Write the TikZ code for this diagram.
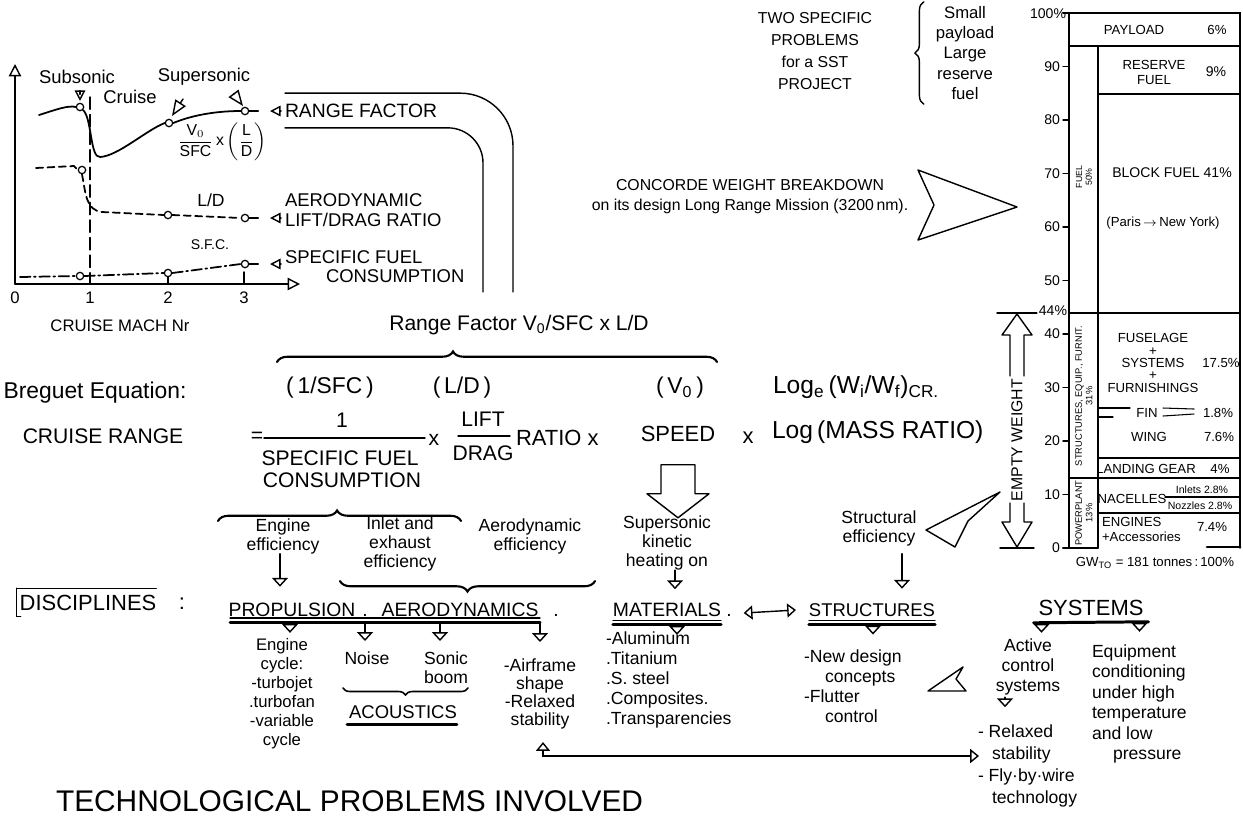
\documentclass[tikz,border=0pt]{standalone}
\usepackage{fontspec}
\setmainfont{Liberation Sans}
\usepackage{amsmath}
\usetikzlibrary{arrows.meta, positioning, calc, decorations.pathreplacing}
\newcommand{\fsz}[2]{\fontsize{#1}{#2}\selectfont}
\tikzstyle{txt} = [inner sep=0pt, outer sep=0pt, align=center]
\tikzstyle{body} = [txt, font=\fsz{10pt}{10.8pt}]
\tikzstyle{disc} = [txt, font=\fsz{11pt}{12pt}]
\tikzstyle{barlbl} = [txt, font=\fsz{7.5pt}{8.5pt}]
\tikzstyle{dot} = [circle, draw, fill=white, inner sep=0pt, minimum size=4.2pt, line width=0.7pt]
\tikzstyle{axis} = [draw, -{Triangle[open, length=7pt, width=7pt]}]
\tikzstyle{tip} = [draw, -{Triangle[open, length=5pt, width=9pt]}]
\tikzstyle{both} = [draw, {Triangle[open, length=5pt, width=8pt]}-{Triangle[open, length=5pt, width=8pt]}]
\tikzstyle{ptrL} = [draw, -{Triangle[open, length=6pt, width=6pt]}]
\tikzstyle{ptrS} = [draw, -{Triangle[open, length=9pt, width=7pt]}]
\tikzstyle{crv} = [draw, line width=1pt]
\tikzstyle{ldash} = [draw, line width=1pt, dash pattern=on 4pt off 2.5pt]
\tikzstyle{dashdot} = [draw, line width=1pt, dash pattern=on 6pt off 2pt on 1pt off 2pt]
\tikzstyle{ul} = [draw, line width=1.7pt]
\tikzstyle{hol} = [draw, line width=0.8pt, line join=round]
\tikzstyle{brc} = [draw, line width=1.2pt, decorate, decoration={brace, amplitude=6pt}]

\begin{document}
\begin{tikzpicture}[x=0.02cm, y=-0.02cm, line width=0.8pt, line cap=round]
\useasboundingbox (0,0) rectangle (1243,816);
\fill[white] (0,0) rectangle (1243,816);
\clip (0,0) rectangle (1243,816);

% Cruise Mach graph
\draw[axis] (15,284) -- (300,284);
\draw[axis] (15,284) -- (15,64);
\foreach \x in {168,244} \draw (\x,272) -- (\x,284);
\foreach \x/\n in {15/0,90/1,168/2,244/3}
  \node[txt, font=\fsz{9.5pt}{10pt}] (m\n) at (\x,298) {\n};
\node[txt, font=\fsz{9.5pt}{10pt}] (mach) at (120,326) {CRUISE MACH Nr};
\draw[dash pattern=on 7pt off 3pt] (90,97) -- (90,284);

\node[dot] (c1) at (80,107) {};
\node[dot] (c2) at (169,123) {};
\node[dot] (c3) at (245,111) {};
\node[dot] (c4) at (82,170) {};
\node[dot] (c5) at (168,215) {};
\node[dot] (c6) at (245,218) {};
\node[dot] (c7) at (80,276) {};
\node[dot] (c8) at (168,273) {};
\node[dot] (c9) at (245,264) {};

\node[txt, font=\fsz{10.5pt}{11pt}] (sub) at (77,77) {Subsonic};
\node[txt, font=\fsz{10.5pt}{11pt}] (cru) at (130,97) {Cruise};
\node[txt, font=\fsz{10.5pt}{11pt}] (sup) at (204,77) {Supersonic};
\node[txt, anchor=west, font=\fsz{11pt}{12pt}] (rf) at (285,111) {RANGE FACTOR};
\node[txt, anchor=west, align=left, font=\fsz{10.5pt}{11.4pt}] (aero) at (285,210) {AERODYNAMIC\\LIFT/DRAG RATIO};
\node[txt, anchor=west, font=\fsz{10.5pt}{11pt}] (sfc) at (285,257) {SPECIFIC FUEL};
\node[txt, anchor=west, font=\fsz{10.5pt}{11pt}] (sfc2) at (326,276) {CONSUMPTION};
\node[txt, font=\fsz{9pt}{10pt}] (rfl) at (222,142) {$\dfrac{\text{V}_0}{\text{SFC}}\,\text{x}\left(\dfrac{\text{L}}{\text{D}}\right)$};
\node[txt, font=\fsz{10pt}{11pt}] (ldl) at (211,200) {L/D};
\node[txt, font=\fsz{8pt}{9pt}] (sfcl) at (210,245) {S.F.C.};

% curves
\draw[crv] (39,115) .. controls (55,110) and (68,105) .. (c1.west);
\draw[crv] (c1.south east) .. controls (92,118) and (90,158) .. (100,157) .. controls (118,156) and (145,131) .. (c2.west);
\draw[crv] (c2.east) .. controls (195,114) and (220,111) .. (c3.west);
\draw[ldash] (36,168) -- (74,166) -- (c4.west);
\draw[ldash] (c4.south) .. controls (86,195) and (86,210) .. (102,212) -- (c5.west);
\draw[ldash] (c5.east) -- (c6.west);
\draw[dashdot] (20,277) -- (c7.west);
\draw[dashdot] (c7.east) -- (c8.west);
\draw[dashdot] (c8.east) -- (c9.west);
\foreach \c in {c3,c6,c9} \draw (\c.east) -- ++(9,0);
\draw[ptrL] ($(rf.west)+(-4,0)$) -- ++(-11,0);
\draw[ptrL] ($(aero.west |- c6)+(-4,0)$) -- ++(-11,0);
\draw[ptrL] ($(sfc.west |- c9)+(-4,0)$) -- ++(-11,0);
\draw[ptrL, shorten <=6pt, shorten >=1pt] (sub.south -| c1) -- (c1.north);
\draw[ptrS] ($(c2)+(14,-24)$) -- ($(c2)+(3,-7)$);
\draw[ptrS] ($(c3)+(-11,-17)$) -- ($(c3)+(-2,-5)$);

% range factor channel
\draw[rounded corners=30pt] ($(rf.north west)+(0,-11)$) -| (513,292);
\draw[rounded corners=20pt] ($(rf.south west)+(0,10)$) -| (483,292);

% SST problems and weight breakdown
\node[txt, font=\fsz{9pt}{12.5pt}] (two) at (815,51) {TWO SPECIFIC\\PROBLEMS\\for a SST\\PROJECT};
\node[txt, font=\fsz{9.5pt}{11.4pt}] (small) at (965,53) {Small\\payload\\Large\\reserve\\fuel};
\draw[brc, line width=0.8pt, decoration={amplitude=5pt}] ($(small.south west)+(-12,5)$) -- ($(small.north west)+(-12,-5)$);
\node[txt, font=\fsz{9pt}{11.5pt}] (cwb) at (750,197) {CONCORDE WEIGHT BREAKDOWN\\on its design Long Range Mission (3200\,nm).};
\draw[hol] (918,170) -- (1017,207) -- (918,240) -- (934,205) -- cycle;

% stacked bar
\draw (1069,13) rectangle (1240,46);
\draw (1069,46) -- (1069,548);
\draw (1098,46) -- (1098,548);
\draw (1240,46) -- (1240,548);
\draw (1098,94) -- (1240,94);
\draw (1069,313) -- (1240,313);
\draw (1098,458) -- (1240,458);
\draw (1069,478) -- (1240,478);
\draw (1165,497) -- (1240,497);
\draw (1098,513) -- (1240,513);
\draw (1063,548) -- (1098,548);
\draw[line width=1.6pt] (1207,547) -- (1240,547);
\foreach \p in {0,10,...,100} \draw (1063,{548-5.35*\p}) -- (1069,{548-5.35*\p});
\foreach \p in {0,10,...,90} \node[txt, anchor=east, font=\fsz{8pt}{9pt}] at (1060,{548-5.35*\p}) {\p};
\node[txt, anchor=east, font=\fsz{8pt}{9pt}] (hund) at (1066,14) {100\%};
\node[txt, anchor=east, font=\fsz{8pt}{9pt}] (ffour) at (1067,311) {44\%};
\draw (997,313) -- ($(ffour.west |- 0,313)+(-2,0)$);
\draw (1000,548) -- (1034,548);
\node[txt, rotate=90, font=\fsz{5pt}{5.5pt}] (fuelc) at (1084,177) {FUEL\\50\%};
\node[txt, rotate=90, font=\fsz{5.3pt}{6pt}] (strc) at (1084,396) {STRUCTURES, EQUIP., FURNIT.\\31\%};
\node[txt, rotate=90, font=\fsz{5.3pt}{6pt}] (powc) at (1084,513) {POWERPLANT\\13\%};
\node[barlbl] (pay) at (1134,30) {PAYLOAD};
\node[barlbl] (payp) at (1217,30) {6\%};
\node[barlbl] (res) at (1154,72) {RESERVE\\FUEL};
\node[barlbl, font=\fsz{8pt}{9pt}] (resp) at (1216,72) {9\%};
\node[barlbl, font=\fsz{8pt}{9pt}] (blk) at (1172,173) {BLOCK FUEL 41\%};
\node[barlbl] (paris) at (1163,223) {(Paris\,$\rightarrow$\,New York)};
\node[barlbl, font=\fsz{7.5pt}{7pt}] (fus) at (1153,363) {FUSELAGE\\+\\SYSTEMS\\+\\FURNISHINGS};
\node[barlbl] (fusp) at (1221,363) {17.5\%};
\node[barlbl] (fin) at (1147,413) {FIN};
\node[barlbl] (finp) at (1218,413) {1.8\%};
\draw[line width=0.6pt] (1099,408) -- (1130,408);
\draw[line width=0.6pt] (1099,417) -- (1113,417);
\draw[line width=0.6pt] (1163,408) -- (1194,409);
\draw[line width=0.6pt] (1163,416) -- (1194,414);
\node[barlbl] (wing) at (1149,437) {WING};
\node[barlbl] (wingp) at (1219,437) {7.6\%};
\node[barlbl] (lgear) at (1146,469) {LANDING GEAR};
\node[barlbl] (lgearp) at (1220,469) {4\%};
\node[barlbl] (nac) at (1132,499) {NACELLES};
\node[txt, font=\fsz{6pt}{6.5pt}] (inl) at (1202,490) {Inlets 2.8\%};
\node[txt, font=\fsz{6pt}{6.5pt}] (noz) at (1200,506) {Nozzles 2.8\%};
\node[barlbl, anchor=west, align=left] (eng) at (1102,529) {ENGINES\\+Accessories};
\node[barlbl] (engp) at (1212,527) {7.4\%};
\node[barlbl] (gw) at (1155,563) {GW\textsubscript{TO} = 181 tonnes\,:\,100\%};
\node[txt, rotate=90, font=\fsz{9pt}{10pt}] (ew) at (1017,440) {EMPTY WEIGHT};
\draw[hol] (1010,376) -- (1010,335) -- (1002,335) -- (1017,314) -- (1032,335) -- (1024,335) -- (1024,376);
\draw[hol] (1010,503) -- (1010,522) -- (1002,522) -- (1017,547) -- (1032,522) -- (1024,522) -- (1024,503);

% Breguet equation
\node[txt, font=\fsz{12pt}{13pt}] (rfac) at (519,325) {Range Factor V\textsubscript{0}/SFC x L/D};
\draw[brc, decoration={aspect=0.4}] (277,362) -- (717,362);
\node[txt, font=\fsz{13pt}{14pt}] (breq) at (95,393) {Breguet Equation:};
\node[txt, font=\fsz{12pt}{13pt}] (crr) at (103,436) {CRUISE RANGE};
\node[txt, font=\fsz{13pt}{14pt}] (isfc) at (330,388) {(\,1/SFC\,)};
\node[txt, font=\fsz{13pt}{14pt}] (ild) at (462,388) {(\,L/D\,)};
\node[txt, font=\fsz{13pt}{14pt}] (iv) at (680,388) {(\,V\textsubscript{0}\,)};
\node[txt, anchor=west, font=\fsz{14pt}{15pt}] (ilog) at (773,387) {Log\textsubscript{e}\,(W\textsubscript{i}/W\textsubscript{f})\textsubscript{CR.}};
\node[txt, font=\fsz{12pt}{13pt}] (eq) at (257,437) {=};
\node[txt, font=\fsz{12pt}{13pt}] (one) at (342,420) {1};
\node[txt, font=\fsz{12pt}{13pt}] (sfd) at (340,458) {SPECIFIC FUEL};
\node[txt, font=\fsz{12pt}{13pt}] (cons) at (342,480) {CONSUMPTION};
\draw (264,438) -- (425,438);
\node[txt, font=\fsz{12pt}{13pt}] (x1) at (434,440) {x};
\node[txt, font=\fsz{12pt}{13pt}] (lift) at (483,419) {LIFT};
\node[txt, font=\fsz{12pt}{13pt}] (drag) at (483,453) {DRAG};
\draw (458,436) -- (510,436);
\node[txt, anchor=west, font=\fsz{12.5pt}{13pt}] (ratio) at (516,438) {RATIO x};
\node[txt, font=\fsz{12.5pt}{13pt}] (speed) at (678,434) {SPEED};
\node[txt, font=\fsz{12.5pt}{13pt}] (x3) at (748,438) {x};
\node[txt, anchor=west, font=\fsz{14pt}{15pt}] (logm) at (772,432) {Log\,(MASS RATIO)};
\coordinate (sa) at ($(speed.south)+(0,23)$);
\draw[hol] ($(sa)+(-17,0)$) -- ++(0,29) -- ++(-14,0) -- ++(31,24) -- ++(31,-24) -- ++(-14,0) -- ++(0,-29) -- cycle;
\draw[brc, decoration={aspect=0.49}] (218,521) -- (461,521);

% efficiencies
\node[body] (enge) at (283,536) {Engine\\efficiency};
\node[body] (inle) at (400,544) {Inlet and\\exhaust\\efficiency};
\node[body] (aere) at (530,536) {Aerodynamic\\efficiency};
\node[body] (sskh) at (667,543) {Supersonic\\kinetic\\heating on};
\node[body] (stre) at (879,528) {Structural\\efficiency};
\draw[brc, decoration={aspect=0.5}] (595,581) -- (340,581);
\draw[tip] ($(enge.south)+(-3,0)$) -- ++(0,33);
\draw[tip] ($(sskh.south)+(8,0)$) -- ++(0,19);
\draw[tip] ($(stre.south)+(23,8)$) -- ++(0,35);
\draw[hol] (1000,492) -- (926,530) -- (955,547) -- (968,521) -- cycle;

% disciplines
\node[txt, font=\fsz{12.5pt}{13pt}] (dis) at (88,603) {DISCIPLINES};
\node[txt, font=\fsz{12.5pt}{13pt}] (col) at (182,604) {:};
\draw ($(dis.north west)+(-3,-7)$) -- ($(dis.north east)+(0,-7)$);
\draw ($(dis.north west)+(-3,-7)$) -- ($(dis.south west)+(-3,6)$) -- ++(4,0);
\node[disc] (prop) at (292,610) {PROPULSION};
\node[disc] (pd) at (365,615) {.};
\node[disc] (aer) at (460,610) {AERODYNAMICS};
\node[disc] (ad) at (556,615) {.};
\node[disc] (mat) at (667,610) {MATERIALS};
\node[disc] (md) at (729,615) {.};
\node[disc, font=\fsz{10.5pt}{11pt}] (stru) at (872,610) {STRUCTURES};
\node[txt, font=\fsz{12.5pt}{13pt}] (sys) at (1091,608) {SYSTEMS};

\draw[line width=0.6pt] (230,618) -- (540,618);
\draw[ul] (230,622) -- (540,622);
\draw[tip] ($(prop.south)+(-2,6)$) -- ++(0,10);
\draw[tip] (pd.south |- 0,622) -- ++(0,19);
\draw[tip] (440,622) -- ++(0,19);
\draw[tip] (540,622) -- ++(0,20);
\foreach \n in {mat,stru} {
  \draw[line width=0.6pt] ($(\n.south west)+(0,4)$) -- ($(\n.south east)+(0,4)$);
  \draw[ul] ($(\n.south west)+(0,8)$) -- ($(\n.south east)+(0,8)$);
}
\draw[tip] ($(mat.south)+(10,8)$) -- ++(0,10);
\draw[tip] ($(stru.south)+(1,8)$) -- ++(0,10);
\draw[both] ($(md.east)+(12,-2)$) -- ($(stru.west)+(-13,0)$);
\draw[ul] ($(sys.south west)+(-5,7)$) -- ($(sys.south east)+(5,6)$);
\draw[tip] ($(sys.south west)+(3,7)$) -- ++(0,10);
\draw[tip] ($(sys.south east)+(-4,6)$) -- ++(0,10);

% discipline details
\node[txt, font=\fsz{9.5pt}{10.8pt}] (ecyc) at (282,694) {Engine\\cycle:\\-turbojet\\.turbofan\\-variable\\cycle};
\node[body] (noise) at (367,658) {Noise};
\node[body] (sonic) at (446,668) {Sonic\\boom};
\draw[brc, line width=0.9pt, decoration={amplitude=4pt, aspect=0.5}] (468,688) -- (343,688);
\node[txt, font=\fsz{10.5pt}{11pt}] (acou) at (403,712) {ACOUSTICS};
\draw[ul] ($(acou.south west)+(-2,6)$) -- ($(acou.south east)+(0,6)$);
\node[txt, font=\fsz{10pt}{10.2pt}] (afr) at (540,694) {-Airframe\\shape\\-Relaxed\\stability};
\node[txt, anchor=west, align=left, font=\fsz{10pt}{11.4pt}] (matl) at (606,680) {-Aluminum\\.Titanium\\.S. steel\\.Composites.\\.Transparencies};
\node[txt, anchor=west, align=left, font=\fsz{10pt}{11.3pt}] (strl) at (804,686) {-New design\\\hspace*{12pt}concepts\\-Flutter\\\hspace*{12pt}control};
\draw[hol] (928,691) -- (963,667) -- (956,679) -- (966,691) -- cycle;
\node[txt, font=\fsz{10pt}{11.4pt}] (acs) at (1028,667) {Active\\control\\systems};
\draw[tip] ($(acs.south)+(-23,2)$) -- ++(0,10);
\node[txt, anchor=west, align=left, font=\fsz{10pt}{12.5pt}] (rsw) at (978,766) {- Relaxed\\\hspace*{8pt}stability\\- Fly\textperiodcentered by\textperiodcentered wire\\\hspace*{8pt}technology};
\node[txt, anchor=west, align=left, font=\fsz{10pt}{11.6pt}] (equip) at (1092,704) {Equipment\\conditioning\\under high\\temperature\\and low\\\hspace*{12pt}pressure};
\coordinate (rsin) at (979,756);
\draw[both] ($(afr.south)+(3,13)$) |- (rsin);

% title
\node[txt, anchor=north west, font=\fsz{17pt}{18pt}] (title) at (56,791) {TECHNOLOGICAL PROBLEMS INVOLVED};
\end{tikzpicture}
\end{document}
